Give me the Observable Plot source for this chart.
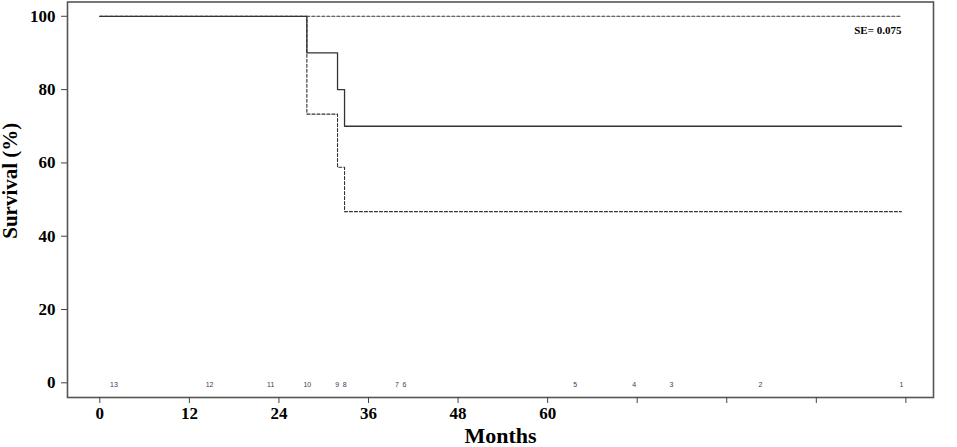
<!DOCTYPE html>
<html>
<head>
<meta charset="utf-8">
<script src="https://cdn.jsdelivr.net/npm/d3@7"></script>
<script src="https://cdn.jsdelivr.net/npm/@observablehq/plot@0.6"></script>
<style>
  html, body { margin: 0; padding: 0; background: #fff; }
  #chart svg { display: block; }
</style>
</head>
<body>
<div id="chart"></div>
<script>
// Kaplan-Meier estimate (months, survival %)
const kmTimes    = [0, 27.74, 31.85, 32.79, 107.4];
const kmSurvival = [100, 90, 80, 70, 70];
// Confidence bounds (dashed)
const ciLowerTimes  = [0, 27.74, 31.85, 32.79, 107.4];
const ciLowerValues = [100, 73.3, 58.8, 46.7, 46.7];
const ciUpperTimes  = [27.74, 107.4];
const ciUpperValues = [100, 100];
// Numbers at risk shown along the bottom row
const riskTimes  = [1.9, 14.7, 22.9, 27.8, 31.8, 32.8, 39.8, 40.8, 63.7, 71.6, 76.6, 88.5, 107.4];
const riskCounts = [13, 12, 11, 10, 9, 8, 7, 6, 5, 4, 3, 2, 1];
// Axis ticks
const xTicks = [0, 12, 24, 36, 48, 60, 72, 84, 96, 108];
const xTickLabels = ["0", "12", "24", "36", "48", "60", "", "", "", ""];
const yTicks = [0, 20, 40, 60, 80, 100];
const seLabel = "SE= 0.075";

const km = kmTimes.map((t, i) => ({t, s: kmSurvival[i]}));
const lower = ciLowerTimes.map((t, i) => ({t, s: ciLowerValues[i]}));
const upper = ciUpperTimes.map((t, i) => ({t, s: ciUpperValues[i]}));
const risk = riskTimes.map((t, i) => ({t, n: riskCounts[i]}));

const serif = "'Liberation Serif', 'Times New Roman', serif";

const chart = Plot.plot({
  width: 957,
  height: 447,
  marginLeft: 67,
  marginRight: 24,
  marginTop: 1.5,
  marginBottom: 50,
  style: {fontFamily: serif, background: "#fff", overflow: "visible"},
  x: {domain: [-4.33, 111.7]},
  y: {domain: [-4.0, 103.9]},
  marks: [
    Plot.frame({stroke: "#555", strokeWidth: 1.6}),
    Plot.axisX({
      ticks: xTicks,
      tickFormat: d => xTickLabels[xTicks.indexOf(d)],
      tickSize: 6, tickPadding: 3,
      stroke: "#444",
      fontSize: 17, fontWeight: "bold", fill: "#000",
      label: null
    }),
    Plot.axisY({
      ticks: yTicks,
      tickSize: 6, tickPadding: 6,
      stroke: "#444",
      fontSize: 17, fontWeight: "bold", fill: "#000",
      label: null
    }),
    Plot.line(lower, {x: "t", y: "s", curve: "step-after", stroke: "#333", strokeWidth: 1.1, strokeDasharray: "3,2"}),
    Plot.line(upper, {x: "t", y: "s", curve: "step-after", stroke: "#333", strokeWidth: 1.1, strokeDasharray: "3,2"}),
    Plot.line(km, {x: "t", y: "s", curve: "step-after", stroke: "#333", strokeWidth: 1.3}),
    Plot.text(risk, {x: "t", y: 0, text: "n", dy: 2, fontSize: 7, fontFamily: "'Liberation Sans', Arial, sans-serif", fill: "#4b3553"}),
    Plot.text([seLabel], {x: kmTimes[kmTimes.length - 1], y: 96.2, text: d => d, textAnchor: "end", fontSize: 11, fontWeight: "bold", fill: "#000"}),
    Plot.text(["Months"], {frameAnchor: "bottom", text: d => d, dy: 45.5, fontSize: 22, fontWeight: "bold", fill: "#000"}),
    Plot.text(["Survival (%)"], {frameAnchor: "left", text: d => d, dx: -57, dy: 39, rotate: -90, fontSize: 21, fontWeight: "bold", fill: "#000"})
  ]
});
document.getElementById("chart").appendChild(chart);
</script>
</body>
</html>
